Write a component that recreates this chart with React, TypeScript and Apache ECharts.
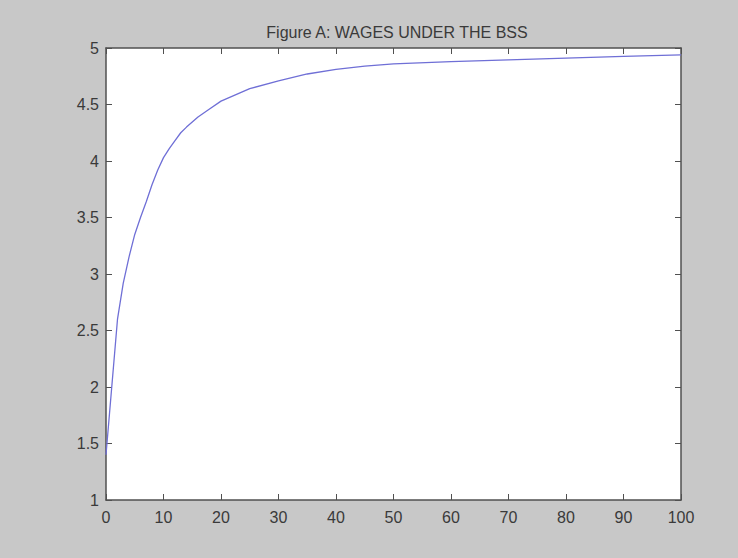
import React, { useEffect, useRef } from "react";
import * as echarts from "echarts";

const titleText = "Figure A: WAGES UNDER THE BSS";
const periods = [0, 1, 2, 3, 4, 5, 6, 7, 8, 9, 10, 11, 12, 13, 14, 16, 18, 20, 25, 30, 35, 40, 45, 50, 60, 70, 80, 90, 100];
const wages = [1.4, 2.0, 2.6, 2.92, 3.15, 3.35, 3.5, 3.64, 3.79, 3.92, 4.03, 4.11, 4.18, 4.25, 4.3, 4.39, 4.46, 4.53, 4.64, 4.71, 4.77, 4.81, 4.84, 4.86, 4.88, 4.895, 4.91, 4.925, 4.94];

export default function App() {
  const ref = useRef<HTMLDivElement>(null);
  useEffect(() => {
    if (!ref.current) return;
    const chart = echarts.init(ref.current, undefined, { renderer: "svg" });
    const axisColor = "#505050";
    const font = "Liberation Sans, Arial, sans-serif";
    const labelStyle = { color: "#3a3a3a", fontSize: 16, fontFamily: font };
    const baseAxis = {
      type: "value" as const,
      axisLine: { show: true, onZero: false, lineStyle: { color: axisColor, width: 1.5 } },
      axisTick: { show: true, inside: true, length: 6, lineStyle: { color: axisColor, width: 1 } },
      splitLine: { show: false },
    };
    chart.setOption({
      animation: false,
      backgroundColor: "#c8c8c8",
      title: {
        text: titleText,
        left: 392,
        top: 19,
        textAlign: "center",
        textStyle: { color: "#3a3a3a", fontSize: 16, fontWeight: "normal", fontFamily: font },
      },
      grid: { left: 106, right: 57, top: 48, bottom: 58, show: true, backgroundColor: "#ffffff", borderWidth: 0 },
      xAxis: [
        { ...baseAxis, position: "bottom", min: 0, max: 100, interval: 10, axisLabel: { ...labelStyle, margin: 9 } },
        { ...baseAxis, position: "top", min: 0, max: 100, interval: 10, axisLabel: { show: false } },
      ],
      yAxis: [
        { ...baseAxis, position: "left", min: 1, max: 5, interval: 0.5, axisLabel: { ...labelStyle, margin: 7 } },
        { ...baseAxis, position: "right", min: 1, max: 5, interval: 0.5, axisLabel: { show: false } },
      ],
      series: [
        {
          type: "line",
          xAxisIndex: 0,
          yAxisIndex: 0,
          data: periods.map((p, i) => [p, wages[i]]),
          showSymbol: false,
          smooth: false,
          lineStyle: { color: "#6f6fd6", width: 1.3 },
        },
      ],
    });
    return () => chart.dispose();
  }, []);
  return <div ref={ref} style={{ position: "fixed", left: 0, top: 0, width: 738, height: 558 }} />;
}
